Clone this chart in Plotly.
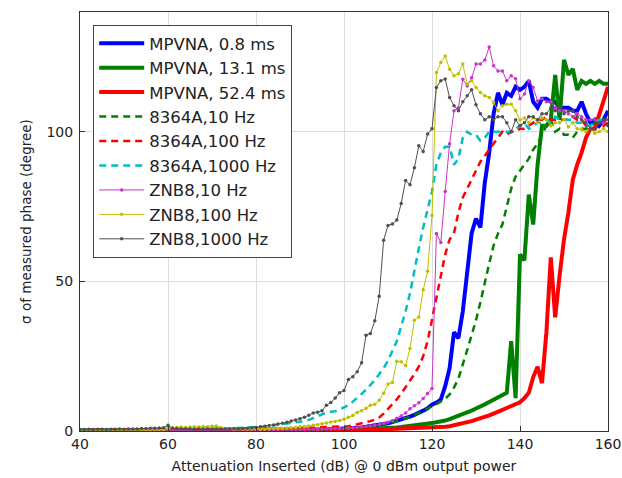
import plotly.graph_objects as go

# Attenuation inserted (dB), 1 dB steps
ATT = list(range(40, 161))

# sigma of measured phase (degree), one value per dB from 40 to 160
MPVNA_08 = [
    0.2, 0.2, 0.2, 0.2, 0.2, 0.2, 0.2, 0.2, 0.2, 0.2,
    0.2, 0.2, 0.2, 0.2, 0.2, 0.2, 0.2, 0.2, 0.2, 0.2,
    0.2, 0.2, 0.2, 0.2, 0.2, 0.2, 0.2, 0.2, 0.2, 0.2,
    0.2, 0.2, 0.2, 0.2, 0.2, 0.2, 0.2, 0.2, 0.2, 0.2,
    0.25, 0.25, 0.25, 0.25, 0.25, 0.25, 0.25, 0.25, 0.25, 0.25,
    0.3, 0.3, 0.35, 0.4, 0.4, 0.45, 0.5, 0.55, 0.6, 0.65,
    0.7, 0.8, 0.9, 1.0, 1.2, 1.4, 1.6, 1.8, 2.0, 2.3,
    2.6, 3.0, 3.4, 3.8, 4.3, 4.8, 5.4, 6.0, 6.8, 7.6,
    8.8, 9.5, 10.5, 15, 21, 33, 31, 40, 54, 66,
    71, 68, 83, 93, 106, 113, 109, 113, 112, 115,
    114, 115, 117, 110, 108, 111, 111, 110, 110, 108,
    108, 108, 107, 107, 110, 106, 103, 104, 102, 104, 107,
]
MPVNA_131 = [
    0.2, 0.2, 0.2, 0.2, 0.2, 0.2, 0.2, 0.2, 0.2, 0.2,
    0.2, 0.2, 0.2, 0.2, 0.2, 0.2, 0.2, 0.2, 0.2, 0.2,
    0.2, 0.2, 0.2, 0.2, 0.2, 0.2, 0.2, 0.2, 0.2, 0.2,
    0.2, 0.2, 0.2, 0.2, 0.2, 0.2, 0.2, 0.2, 0.2, 0.2,
    0.2, 0.2, 0.2, 0.2, 0.2, 0.25, 0.25, 0.25, 0.25, 0.25,
    0.3, 0.3, 0.3, 0.3, 0.3, 0.3, 0.3, 0.3, 0.3, 0.3,
    0.35, 0.4, 0.45, 0.5, 0.55, 0.6, 0.65, 0.7, 0.8, 0.9,
    1.0, 1.1, 1.2, 1.35, 1.5, 1.65, 1.8, 2.0, 2.2, 2.4,
    2.7, 2.9, 3.1, 3.5, 4.0, 4.5, 5.0, 5.5, 6.2, 6.8,
    7.5, 8.1, 8.9, 9.7, 10.5, 11.3, 12.0, 12.8, 30, 11,
    59, 57, 79, 69, 89, 102, 102, 104, 119, 104,
    124, 119, 121, 114, 117, 116, 117, 116, 117, 116, 116,
]
MPVNA_524 = [
    0.2, 0.2, 0.2, 0.2, 0.2, 0.2, 0.2, 0.2, 0.2, 0.2,
    0.2, 0.2, 0.2, 0.2, 0.2, 0.2, 0.2, 0.2, 0.2, 0.2,
    0.2, 0.2, 0.2, 0.2, 0.2, 0.2, 0.2, 0.2, 0.2, 0.2,
    0.2, 0.2, 0.2, 0.2, 0.2, 0.2, 0.2, 0.2, 0.2, 0.2,
    0.2, 0.2, 0.2, 0.2, 0.25, 0.25, 0.25, 0.25, 0.25, 0.25,
    0.3, 0.3, 0.3, 0.3, 0.3, 0.3, 0.3, 0.3, 0.3, 0.3,
    0.3, 0.33, 0.35, 0.37, 0.4, 0.42, 0.45, 0.5, 0.52, 0.56,
    0.6, 0.64, 0.68, 0.72, 0.76, 0.8, 0.85, 0.9, 0.95, 1.0,
    1.1, 1.2, 1.3, 1.45, 1.6, 1.9, 2.2, 2.5, 2.9, 3.3,
    3.8, 4.2, 4.7, 5.2, 5.8, 6.4, 7.0, 7.6, 8.2, 8.8,
    9.6, 11, 12.8, 18, 21.5, 16, 33, 58, 38, 52,
    64, 73, 84, 89, 93, 98, 101, 101, 106, 111, 115,
]
A8364_10 = [
    0.3, 0.3, 0.3, 0.3, 0.3, 0.3, 0.3, 0.3, 0.3, 0.3,
    0.3, 0.3, 0.3, 0.3, 0.3, 0.3, 0.3, 0.3, 0.3, 0.3,
    0.3, 0.3, 0.3, 0.3, 0.3, 0.3, 0.3, 0.3, 0.3, 0.3,
    0.3, 0.3, 0.3, 0.3, 0.3, 0.3, 0.3, 0.3, 0.3, 0.3,
    0.3, 0.3, 0.3, 0.3, 0.3, 0.35, 0.35, 0.35, 0.35, 0.35,
    0.4, 0.4, 0.45, 0.5, 0.5, 0.55, 0.6, 0.65, 0.7, 0.75,
    0.8, 0.9, 1.0, 1.1, 1.25, 1.4, 1.6, 1.8, 2.0, 2.3,
    2.6, 2.9, 3.3, 3.7, 4.2, 4.7, 5.3, 6.0, 6.7, 7.4,
    8.2, 9.0, 9.8, 10.8, 12.2, 14.5, 17.5, 22, 27, 32,
    37, 43, 50, 56, 62, 66, 69, 75, 81, 85,
    87, 89, 91, 94, 96, 99, 102, 104, 100, 101,
    99, 99, 98, 100, 101, 101, 102, 103, 103, 104, 104,
]
A8364_100 = [
    0.3, 0.3, 0.3, 0.3, 0.3, 0.3, 0.3, 0.3, 0.3, 0.3,
    0.3, 0.3, 0.3, 0.3, 0.3, 0.3, 0.35, 0.35, 0.35, 0.35,
    0.35, 0.35, 0.35, 0.4, 0.4, 0.4, 0.4, 0.4, 0.4, 0.4,
    0.4, 0.4, 0.45, 0.45, 0.45, 0.45, 0.45, 0.5, 0.5, 0.5,
    0.5, 0.5, 0.55, 0.6, 0.6, 0.65, 0.7, 0.75, 0.8, 0.9,
    0.95, 1.0, 1.05, 1.1, 1.15, 1.2, 1.25, 1.3, 1.35, 1.4,
    1.4, 1.6, 1.9, 2.2, 2.5, 2.9, 3.3, 3.8, 4.5, 5.8,
    7.3, 9.0, 10.6, 12.5, 14.6, 16.8, 19, 21.5, 25, 30,
    37, 44, 52, 59, 64, 66, 73, 78, 81, 84,
    87, 90, 92, 94, 96, 98, 100, 99, 100, 100,
    101, 101, 102, 103, 104, 104, 105, 104, 104, 104,
    104, 104, 105, 104, 104, 102, 101, 101, 102, 102, 103,
]
A8364_1000 = [
    0.5, 0.5, 0.5, 0.5, 0.5, 0.5, 0.5, 0.5, 0.5, 0.5,
    0.5, 0.5, 0.5, 0.5, 0.5, 0.5, 0.5, 0.5, 0.5, 0.5,
    0.6, 0.6, 0.6, 0.6, 0.6, 0.6, 0.6, 0.6, 0.6, 0.6,
    0.7, 0.7, 0.75, 0.8, 0.85, 0.9, 0.95, 1.0, 1.05, 1.1,
    1.2, 1.35, 1.5, 1.7, 1.9, 2.1, 2.3, 2.5, 2.6, 2.8,
    3.0, 3.3, 3.7, 4.3, 5.0, 5.7, 6.2, 6.4, 6.6, 7.2,
    7.8, 8.6, 9.8, 11, 12.4, 13.8, 15.4, 17, 19, 21,
    23.5, 26.5, 30, 35, 40, 46, 54, 61, 68, 74,
    80, 89, 93, 95, 95, 89, 91, 98, 100, 99,
    99, 97, 98, 100, 100, 100, 100, 100, 100, 101,
    102, 103, 101, 102, 103, 103, 104, 103, 105, 104,
    104, 104, 104, 103, 103, 102, 102, 103, 104, 104, 104,
]
ZNB8_10 = [
    0.3, 0.3, 0.3, 0.3, 0.3, 0.3, 0.3, 0.3, 0.3, 0.3,
    0.3, 0.3, 0.3, 0.3, 0.3, 0.3, 0.3, 0.3, 0.3, 0.3,
    0.3, 0.3, 0.3, 0.3, 0.3, 0.3, 0.3, 0.3, 0.3, 0.3,
    0.3, 0.3, 0.3, 0.3, 0.3, 0.3, 0.3, 0.3, 0.3, 0.3,
    0.3, 0.3, 0.35, 0.35, 0.4, 0.4, 0.4, 0.45, 0.45, 0.5,
    0.5, 0.55, 0.55, 0.6, 0.6, 0.65, 0.7, 0.75, 0.8, 0.85,
    0.9, 1.0, 1.1, 1.2, 1.3, 1.5, 1.7, 1.9, 2.2, 2.5,
    2.9, 3.4, 4.3, 5.0, 6.0, 7.4, 8.4, 9.4, 10.9, 12.5,
    14.2, 66, 63, 80, 96, 107, 108, 117.5, 115.3, 118,
    122.6, 122.6, 124, 128.3, 122, 120.3, 120.3, 117, 118.7, 117.7,
    111, 112.6, 117, 114.8, 110.3, 111, 110, 110, 108, 107,
    107, 106, 105, 106, 105, 104, 104, 104, 103, 103, 104,
]
ZNB8_100 = [
    0.3, 0.3, 0.3, 0.3, 0.3, 0.3, 0.3, 0.3, 0.3, 0.3,
    0.3, 0.3, 0.3, 0.35, 0.35, 0.4, 0.4, 0.4, 0.45, 0.5,
    0.9, 1.1, 1.2, 1.3, 1.2, 1.3, 1.4, 1.3, 1.5, 1.4,
    1.6, 1.7, 1.2, 0.8, 0.7, 0.7, 0.6, 0.6, 0.6, 0.6,
    0.6, 0.6, 0.7, 0.7, 0.8, 0.8, 0.9, 1.0, 1.1, 1.2,
    1.4, 1.5, 1.7, 1.9, 2.1, 2.4, 2.7, 3.0, 3.2, 3.5,
    3.9, 4.6, 5.2, 6.2, 6.8, 7.6, 8.6, 8.9, 10.3, 12.6,
    15.7, 16.2, 23.3, 23.1, 21.8, 27.6, 37, 38.1, 47.2, 53.4,
    72, 119.8, 123.1, 125.3, 120.9, 118.7, 119.4, 122.6, 115.9, 117,
    114.8, 113.1, 112, 111.4, 109.8, 107, 108.7, 109.2, 109.2, 107,
    103.9, 104.6, 103, 104.7, 103, 104.6, 104, 102, 103, 103,
    104, 101.6, 103, 101, 100.7, 100, 101, 99.5, 100, 101, 100,
]
ZNB8_1000 = [
    0.5, 0.5, 0.6, 0.5, 0.6, 0.6, 0.5, 0.6, 0.6, 0.7,
    0.6, 0.7, 0.7, 0.7, 0.8, 0.8, 0.9, 0.9, 1.0, 1.1,
    1.9, 0.9, 0.8, 0.7, 0.7, 0.7, 0.6, 0.7, 0.6, 0.7,
    0.6, 0.7, 0.6, 0.7, 0.7, 0.8, 0.7, 0.8, 0.9, 1.0,
    1.2, 1.4, 1.6, 1.8, 2.0, 2.3, 2.6, 2.9, 3.3, 3.7,
    4.1, 4.6, 5.3, 6.0, 6.3, 6.8, 8.6, 9.5, 11, 12.8,
    13.5, 17.2, 18.1, 19.8, 22.8, 32, 32.6, 36.8, 45, 63.7,
    68.7, 69.2, 70.5, 76, 83.7, 82.3, 88, 95.3, 93.4, 99.2,
    101, 114.8, 117, 117.6, 111.4, 108.7, 107, 110, 112, 114,
    109, 106, 104, 105, 104, 105, 105, 103, 100, 104,
    102, 103, 105, 105, 104, 106, 106, 108, 107, 108,
    106, 107, 107, 105, 104, 103, 101, 101, 103, 104, 102,
]

NAMES = [
    "MPVNA, 0.8 ms", "MPVNA, 13.1 ms", "MPVNA, 52.4 ms",
    "8364A,10 Hz", "8364A,100 Hz", "8364A,1000 Hz",
    "ZNB8,10 Hz", "ZNB8,100 Hz", "ZNB8,1000 Hz",
]
VALUES = [MPVNA_08, MPVNA_131, MPVNA_524, A8364_10, A8364_100, A8364_1000,
          ZNB8_10, ZNB8_100, ZNB8_1000]
X_TICKS = [40, 60, 80, 100, 120, 140, 160]
Y_TICKS = [0, 50, 100]

STYLES = [
    dict(color="#0000FF", width=4, dash="solid", marker=False),
    dict(color="#008000", width=4, dash="solid", marker=False),
    dict(color="#FF0000", width=4, dash="solid", marker=False),
    dict(color="#008000", width=2.5, dash="7px,5px", marker=False),
    dict(color="#FF0000", width=2.5, dash="7px,5px", marker=False),
    dict(color="#00BFBF", width=2.5, dash="7px,5px", marker=False),
    dict(color="#CC33CC", width=1, dash="solid", marker=True),
    dict(color="#BFBF00", width=1, dash="solid", marker=True),
    dict(color="#505050", width=1, dash="solid", marker=True),
]

fig = go.Figure()
for name, vals, st in zip(NAMES, VALUES, STYLES):
    fig.add_trace(go.Scatter(
        x=ATT, y=vals, name=name,
        mode="lines+markers" if st["marker"] else "lines",
        line=dict(color=st["color"], width=st["width"], dash=st["dash"]),
        marker=dict(size=3.5, color=st["color"]) if st["marker"] else None,
    ))

AX = dict(showline=True, mirror=True, linecolor="#333333", linewidth=1,
          ticks="inside", ticklen=5, tickcolor="#333333",
          showgrid=True, gridcolor="#DDDDDD", gridwidth=1, zeroline=False,
          automargin=False,
          tickfont=dict(size=14, color="#222222"))

fig.update_layout(
    width=622, height=478,
    margin=dict(l=80, r=14, t=12, b=47),
    paper_bgcolor="white", plot_bgcolor="white",
    font=dict(family="DejaVu Sans", color="#222222"),
    showlegend=True,
    legend=dict(x=0.025, y=0.969, xanchor="left", yanchor="top",
                bgcolor="white", bordercolor="#444444", borderwidth=1,
                font=dict(size=16.5, color="#222222"),
                itemwidth=45, tracegroupgap=0),
    xaxis=dict(range=[40, 160], tickvals=X_TICKS,
               title=dict(text="Attenuation Inserted (dB) @ 0 dBm output power",
                          font=dict(size=14), standoff=10),
               **AX),
    yaxis=dict(range=[0, 140], tickvals=Y_TICKS, ticklabelstandoff=3,
               title=dict(text="σ of measured phase (degree)",
                          font=dict(size=13.5), standoff=11),
               **AX),
)

fig.write_html(
    "out.html",
    config={"displayModeBar": False},
    post_script="document.body.style.margin='0';document.body.style.padding='0';"
                "document.body.style.overflow='hidden';",
)
